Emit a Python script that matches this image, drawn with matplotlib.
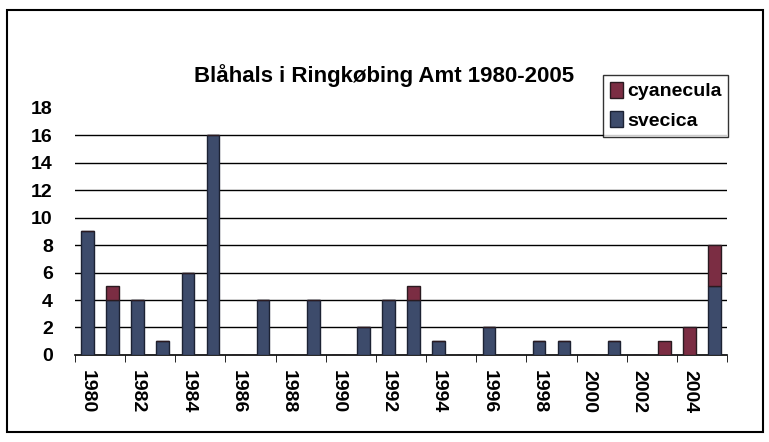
import numpy as np
import matplotlib.pyplot as plt
from matplotlib.patches import Rectangle

plt.rcParams['font.family'] = ['Liberation Sans', 'DejaVu Sans']

# data
years = list(range(1980, 2006))
svecica = [9, 4, 4, 1, 6, 16, 0, 4, 0, 4, 0, 2, 4, 4, 1, 0, 2, 0, 1, 1, 0, 1, 0, 0, 0, 5]
cyanecula = [0, 1, 0, 0, 0, 0, 0, 0, 0, 0, 0, 0, 0, 1, 0, 0, 0, 0, 0, 0, 0, 0, 0, 1, 2, 3]
tick_years = [str(y) for y in range(1980, 2005, 2)]

c_sve = '#3d4b6b'
c_cya = '#7b2d43'

fig = plt.figure(figsize=(7.69, 4.42), dpi=100)
ax = fig.add_axes([0.0975, 0.197, 0.848, 0.559])

x = np.arange(len(years))
ax.bar(x, svecica, width=0.5, color=c_sve, edgecolor='#1c2233', linewidth=1, label='svecica', zorder=3)
ax.bar(x, cyanecula, width=0.5, bottom=svecica, color=c_cya, edgecolor='#2a1a20', linewidth=1,
       label='cyanecula', zorder=3)

ax.set_xlim(-0.5, len(years) - 0.5)
ax.set_ylim(0, 18)
ax.set_yticks(range(0, 19, 2))
ax.tick_params(axis='y', length=0, labelsize=14, pad=16)
for v in range(2, 17, 2):
    ax.axhline(v, color='black', linewidth=1, zorder=1)

ax.set_xticks(x[::2])
ax.set_xticklabels(tick_years, rotation=-90, fontsize=14)
ax.tick_params(axis='x', length=0, pad=11)
ax.set_xticks(np.arange(-0.5, len(years), 2), minor=True)
ax.tick_params(axis='x', which='minor', length=5, direction='out', color='black')
for t in ax.get_xticklabels() + ax.get_yticklabels():
    t.set_fontweight('bold')

for s in ['top', 'right', 'left']:
    ax.spines[s].set_visible(False)
ax.spines['bottom'].set_linewidth(1.2)

fig.text(0.5, 0.83, 'Blåhals i Ringkøbing Amt 1980-2005', fontsize=16, fontweight='bold',
         ha='center', va='center')

h, l = ax.get_legend_handles_labels()
leg = ax.legend(h[::-1], l[::-1], loc='upper right', bbox_to_anchor=(1.002, 1.134),
                prop={'size': 14, 'weight': 'bold'},
                frameon=True, fancybox=False, edgecolor='black', handlelength=0.7,
                handleheight=0.9, handletextpad=0.2, borderpad=0.35, labelspacing=0.55,
                borderaxespad=0)
leg.get_frame().set_linewidth(1)

fig.add_artist(Rectangle((0.009, 0.023), 0.983, 0.955, transform=fig.transFigure,
                         fill=False, edgecolor='black', linewidth=1.5))

fig.savefig('out.png', dpi=100)
